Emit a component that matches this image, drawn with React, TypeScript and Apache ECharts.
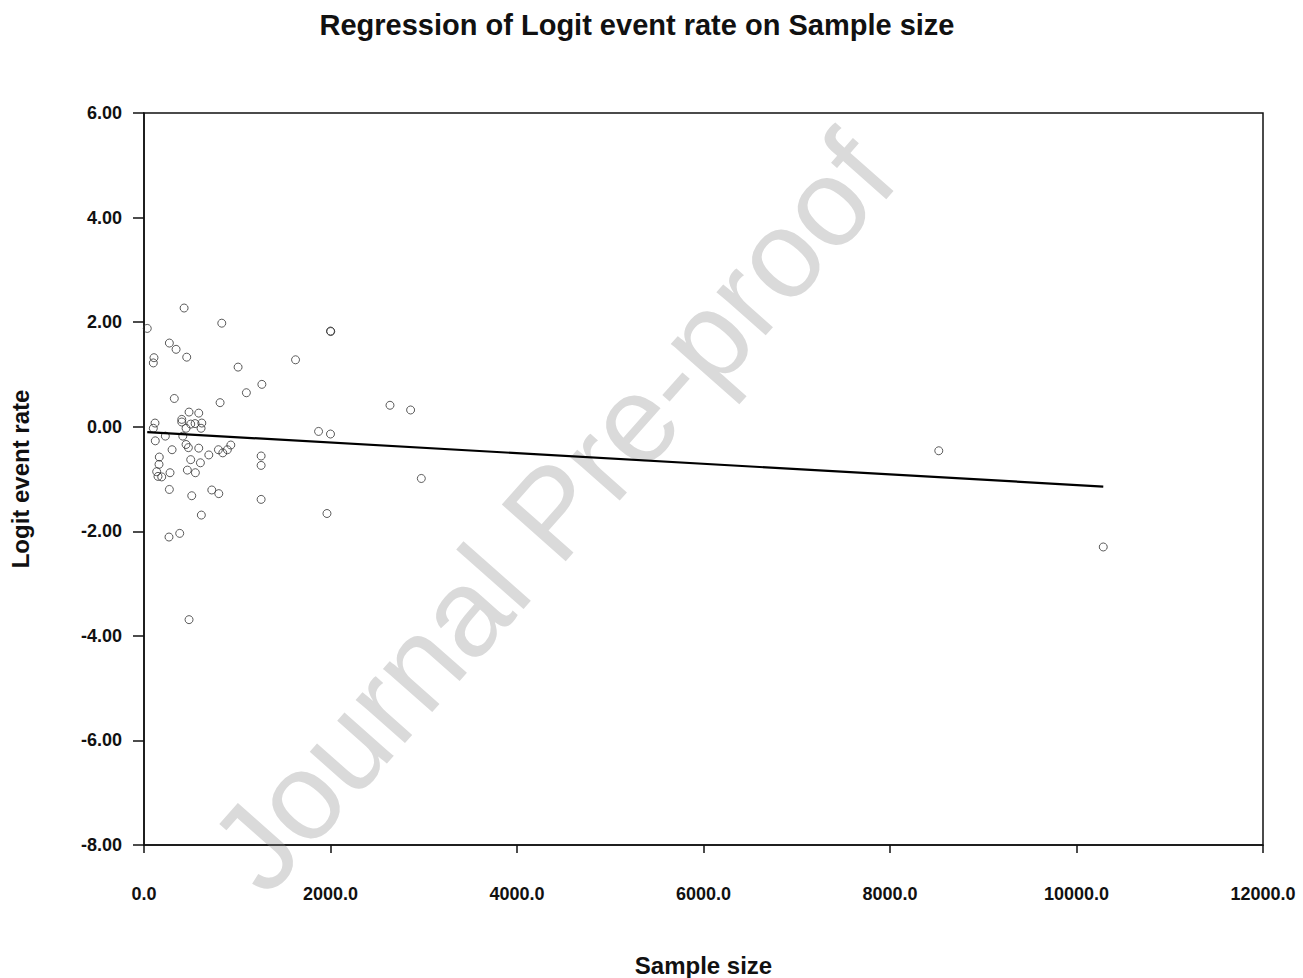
import React, { useEffect, useRef } from "react";
import * as echarts from "echarts";

const sampleSize: number[] = [
  430, 834, 35, 272, 344, 458, 107, 100, 1009, 1264, 1098, 325, 816, 483, 587,
  405, 118, 405, 501, 548, 620, 612, 451, 100, 229, 416, 121, 451, 476, 587,
  301, 931, 894, 798, 845, 695, 1256, 1256, 501, 605, 164, 161, 136, 190, 150,
  279, 465, 551, 272, 512, 727, 802, 1256, 615, 268, 383, 483, 2000, 2003,
  1625, 2638, 2859, 1872, 2000, 1962, 2974, 8523, 10287,
];
const logitRate: number[] = [
  2.27, 1.98, 1.88, 1.6, 1.48, 1.33, 1.32, 1.22, 1.14, 0.81, 0.65, 0.54, 0.46,
  0.28, 0.26, 0.14, 0.07, 0.09, 0.05, 0.06, 0.07, -0.03, -0.03, -0.03, -0.18,
  -0.18, -0.27, -0.34, -0.4, -0.41, -0.44, -0.35, -0.44, -0.44, -0.5, -0.54,
  -0.56, -0.74, -0.63, -0.69, -0.58, -0.72, -0.86, -0.96, -0.95, -0.88, -0.83,
  -0.88, -1.2, -1.32, -1.21, -1.28, -1.39, -1.69, -2.11, -2.04, -3.69, 1.83,
  1.82, 1.28, 0.41, 0.32, -0.09, -0.14, -1.66, -0.99, -0.46, -2.3,
];
const regIntercept = -0.1;
const regSlope = -0.0001015;
const xTicks = { min: 0, max: 12000, interval: 2000 };
const yTicks = { min: -8, max: 6, interval: 2 };

const FONT = "'Liberation Sans', Arial, sans-serif";

export default function App() {
  const ref = useRef<HTMLDivElement>(null);
  useEffect(() => {
    document.body.style.margin = "0";
    const chart = echarts.init(ref.current!, undefined, { renderer: "svg" });
    const points = sampleSize.map((x, i) => [x, logitRate[i]]);
    const xMin = Math.min(...sampleSize);
    const xMax = Math.max(...sampleSize);
    const line = [
      [xMin, regIntercept + regSlope * xMin],
      [xMax, regIntercept + regSlope * xMax],
    ];
    chart.setOption({
      animation: false,
      backgroundColor: "#ffffff",
      textStyle: { fontFamily: FONT },
      title: {
        text: "Regression of Logit event rate on Sample size",
        left: 632,
        top: 5,
        textAlign: "center",
        textStyle: { fontFamily: FONT, fontWeight: "bold", fontSize: 29, color: "#111" },
      },
      grid: {
        left: 144,
        top: 113,
        width: 1119,
        height: 732,
        show: true,
        borderColor: "#111",
        borderWidth: 1.5,
        backgroundColor: "transparent",
        containLabel: false,
        outerBoundsMode: "none",
      },
      graphic: [
        {
          type: "text",
          x: 552,
          y: 512,
          rotation: (48.5 * Math.PI) / 180,
          z: 0,
          silent: true,
          style: {
            text: "Journal Pre-proof",
            fontFamily: FONT,
            fontSize: 124,
            fill: "#dadada",
            align: "center",
            verticalAlign: "middle",
          },
        },
      ],
      xAxis: {
        type: "value",
        min: xTicks.min,
        max: xTicks.max,
        interval: xTicks.interval,
        name: "Sample size",
        nameLocation: "middle",
        nameGap: 108,
        nameTextStyle: { fontFamily: FONT, fontWeight: "bold", fontSize: 24, color: "#111" },
        axisLine: { show: true, onZero: false, lineStyle: { color: "#111", width: 1.5 } },
        axisTick: { show: true, length: 8, lineStyle: { color: "#111", width: 1.5 } },
        splitLine: { show: false },
        axisLabel: {
          margin: 40,
          fontFamily: FONT,
          fontWeight: "bold",
          fontSize: 18,
          color: "#111",
          formatter: (v: number) => v.toFixed(1),
        },
      },
      yAxis: {
        type: "value",
        min: yTicks.min,
        max: yTicks.max,
        interval: yTicks.interval,
        name: "Logit event rate",
        nameLocation: "middle",
        nameGap: 112,
        nameRotate: 90,
        nameTextStyle: { fontFamily: FONT, fontWeight: "bold", fontSize: 24, color: "#111" },
        axisLine: { show: true, onZero: false, lineStyle: { color: "#111", width: 1.5 } },
        axisTick: { show: true, length: 11, lineStyle: { color: "#111", width: 1.5 } },
        splitLine: { show: false },
        axisLabel: {
          margin: 22,
          fontFamily: FONT,
          fontWeight: "bold",
          fontSize: 18,
          color: "#111",
          formatter: (v: number) => v.toFixed(2),
        },
      },
      series: [
        {
          type: "scatter",
          data: points,
          symbol: "circle",
          symbolSize: 8,
          itemStyle: { color: "rgba(255,255,255,0)", borderColor: "#333", borderWidth: 1 },
          z: 3,
        },
        {
          type: "line",
          data: line,
          symbol: "none",
          lineStyle: { color: "#000", width: 2.2 },
          z: 4,
        },
      ],
    });
    return () => chart.dispose();
  }, []);
  return <div ref={ref} style={{ width: 1303, height: 978 }} />;
}
